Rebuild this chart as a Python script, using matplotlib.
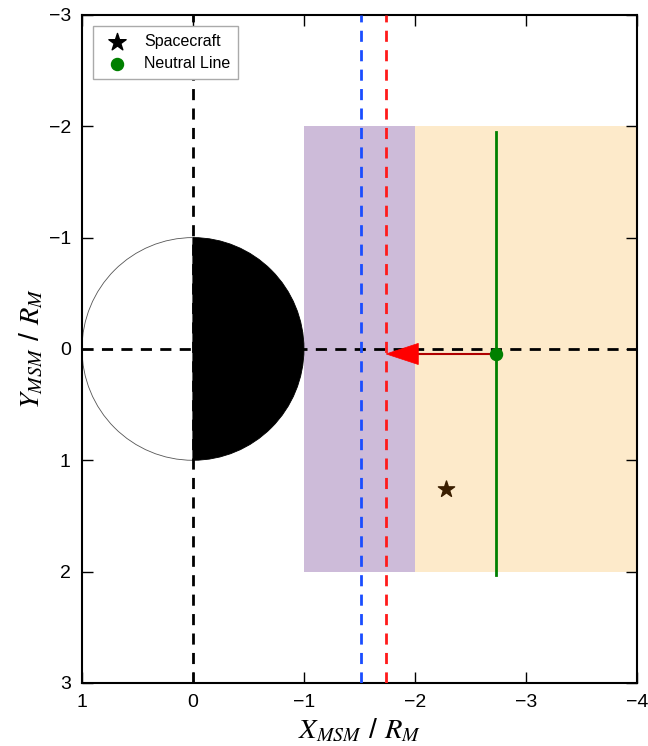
import numpy as np
import matplotlib
matplotlib.use('Agg')
import matplotlib.pyplot as plt
from matplotlib.patches import Wedge, Rectangle

plt.rcParams['font.family'] = ['Liberation Sans', 'DejaVu Sans']
plt.rcParams['mathtext.fontset'] = 'stix'

# data
sc_pos = (-2.28, 1.26)
nl_x = -2.73
nl_y = (-1.95, 2.03)
nl_pt = (-2.73, 0.045)
arrow_end_x = -1.74
line_blue_x = -1.51
line_red_x = -1.74
purple_box = (-2.0, -1.0, -2.0, 2.0)   # x0, x1, y0, y1
orange_box = (-4.0, -2.0, -2.0, 2.0)
xticks = [1, 0, -1, -2, -3, -4]
yticks = [-3, -2, -1, 0, 1, 2, 3]

fig = plt.figure(figsize=(6.48, 7.46), dpi=100)
ax = fig.add_axes([0.1265, 0.0845, 0.8565, 0.8955])

# regions
ax.add_patch(Rectangle((purple_box[0], purple_box[2]), purple_box[1] - purple_box[0],
                       purple_box[3] - purple_box[2], facecolor='#cdbbd9', edgecolor='none', zorder=1))
ax.add_patch(Rectangle((orange_box[0], orange_box[2]), orange_box[1] - orange_box[0],
                       orange_box[3] - orange_box[2], facecolor='#fdeaca', edgecolor='none', zorder=1))

# planet
ax.add_patch(Wedge((0, 0), 1, -90, 90, facecolor='white', edgecolor='#555555', lw=0.6, zorder=2))
ax.add_patch(Wedge((0, 0), 1, 90, 270, facecolor='black', edgecolor='black', lw=0.6, zorder=2))

# axes lines
ax.axvline(0, color='black', ls='--', lw=2, dashes=(4, 3), zorder=3)
ax.axhline(0, color='black', ls='--', lw=2, dashes=(4, 3), zorder=3)
ax.axvline(line_blue_x, color='#1a4dff', ls='--', lw=2, dashes=(4, 3), zorder=3)
ax.axvline(line_red_x, color='#ff1a1a', ls='--', lw=2, dashes=(4, 3), zorder=3)

# neutral line + flow arrow
head_len = 0.29
ax.plot([nl_pt[0], arrow_end_x - head_len], [nl_pt[1], nl_pt[1]], color='#b00000', lw=1.5, zorder=4)
ax.arrow(arrow_end_x - head_len, nl_pt[1], head_len, 0, width=0, head_width=0.19,
         head_length=head_len, length_includes_head=True, fc='red', ec='red', lw=0.5, zorder=4)
ax.plot([nl_x, nl_x], nl_y, color='green', lw=2, zorder=4)
ax.scatter([nl_pt[0]], [nl_pt[1]], s=75, color='green', zorder=5, label='Neutral Line')
ax.scatter([sc_pos[0]], [sc_pos[1]], s=150, marker='*', color='#3a1e00', zorder=5)
ax.scatter([], [], s=170, marker='*', color='black', label='Spacecraft')

ax.set_xlim(1, -4)
ax.set_ylim(3, -3)
ax.set_xticks(xticks)
ax.set_yticks(yticks)
ax.set_xticklabels(['1', '0', '\u22121', '\u22122', '\u22123', '\u22124'])
ax.set_yticklabels(['\u22123', '\u22122', '\u22121', '0', '1', '2', '3'])
ax.tick_params(direction='in', top=True, right=True, length=8, width=1, labelsize=14, pad=8)
for s in ax.spines.values():
    s.set_linewidth(1.5)

ax.set_xlabel(r'$X_{MSM}$ / $R_M$', fontsize=20.5, labelpad=4)
ax.set_ylabel(r'$Y_{MSM}$ / $R_M$', fontsize=20.5, labelpad=2)

h, l = ax.get_legend_handles_labels()
leg = ax.legend(h[::-1], l[::-1], loc='upper left', fontsize=11.5, fancybox=False,
                edgecolor='#aaaaaa', framealpha=1, borderpad=0.5, handletextpad=0.7,
                labelspacing=0.45, bbox_to_anchor=(0.005, 0.995))

fig.savefig('out.png', dpi=100)
